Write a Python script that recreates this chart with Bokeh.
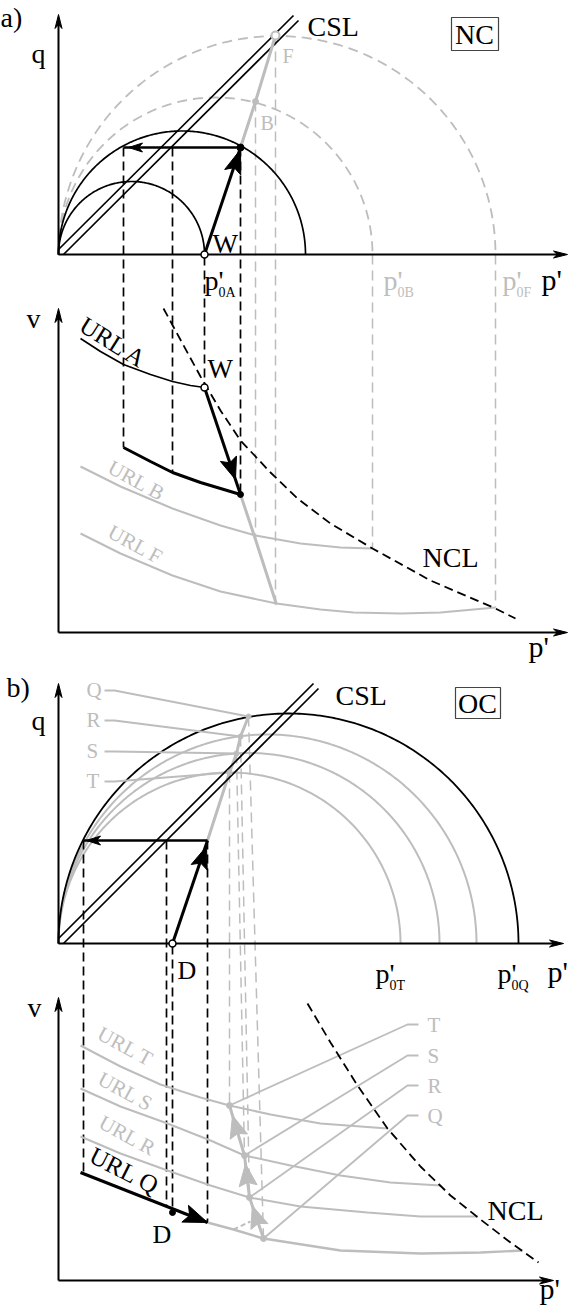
import numpy as np
from bokeh.plotting import figure
from bokeh.models import Range1d
from bokeh.core.properties import value
from bokeh.embed import file_html
from bokeh.resources import INLINE

BLACK = "#000000"
GREY = "#bdbdbd"
FONT = "Liberation Serif"
DASH = "9 5"
GDASH = "10 6"

# ======================= DATA (drawing units, y grows downward) =======================
axis_x0 = 58
# ---------- a) NC : q-p' plane ----------
a_q_base = 254
a_q_top = 14
a_locus_ends = [204, 305]            # p'0A locus, current yield locus
a_grey_locus_ends = [372, 495]       # p'0B, p'0F (dashed)
a_csl_up_x = [58, 293];  a_csl_up_y = [249, 15]
a_csl_lo_x = [63, 298];  a_csl_lo_y = [254, 20]
a_esp_x = [204, 240];    a_esp_y = [254, 147]
a_gsp_x = [240, 255, 275]; a_gsp_y = [147, 101, 35]
a_unl_x = [240, 123];    a_unl_y = [147, 147]
a_drop_x = [123, 172, 204, 240]
a_drop_top = [147, 147, 256, 147]
a_drop_bot = [447, 472, 387, 494]
a_gdrop_x = [255, 275, 372, 495]
a_gdrop_top = [101, 35, 254, 254]
a_gdrop_bot = [538, 604, 548, 607]
# ---------- a) NC : v-p' plane ----------
a_v_base = 632
a_v_top = 308
a_url_a_x = [80, 100, 123, 150, 172, 190, 204]
a_url_a_y = [338, 351, 364, 374, 381, 385, 387]
a_unl_v_x = [123, 150, 172, 200, 220, 240]
a_unl_v_y = [447, 461, 472, 482, 488, 494]
a_vpath_x = [204, 240];  a_vpath_y = [387, 494]
a_gvpath_x = [240, 255, 276]; a_gvpath_y = [494, 539, 604]
a_url_b_x = [80, 120, 172, 220, 255, 300, 340, 372]
a_url_b_y = [466, 486, 508, 525, 535, 543, 547, 548]
a_url_f_x = [80, 120, 172, 220, 276, 320, 353, 400, 440, 495]
a_url_f_y = [533, 553, 575, 591, 603, 609, 612, 613, 612, 607]
a_ncl_x = [163, 182, 200, 220, 240, 270, 297, 330, 372, 430, 495, 515]
a_ncl_y = [308, 343, 376, 410, 440, 472, 498, 523, 548, 580, 608, 618]

# ---------- b) OC : q-p' plane ----------
b_q_base = 943
b_q_top = 683
b_locus_end = 518                    # p'0Q (black)
b_grey_locus_ends = [400, 439, 476]  # T, S, R loci
b_csl_up_x = [58, 313]; b_csl_up_y = [938, 683]
b_csl_lo_x = [63, 318]; b_csl_lo_y = [943, 688]
b_esp_x = [172, 207];   b_esp_y = [943, 840]
b_unl_x = [207, 83];    b_unl_y = [840, 840]
b_gsp_x = [207, 229, 236, 240, 248]; b_gsp_y = [840, 772, 753, 736, 716]
b_pt_names = ["T", "S", "R", "Q"]
b_qpt_x = [229, 236, 240, 248]; b_qpt_y = [772, 753, 736, 716]
b_vpt_x = [229, 244, 249, 263]; b_vpt_y = [1105, 1155, 1197, 1238]
b_drop_x = [83, 166, 172, 207]
b_drop_top = [840, 840, 945, 840]
b_drop_bot = [1172, 1206, 1212, 1222]
b_lab_q_y = [781, 751, 720, 690]     # leader start heights for T S R Q (left labels)
b_lab_v_y = [1024, 1055, 1085, 1115] # leader start heights for T S R Q (right labels)
# ---------- b) OC : v-p' plane ----------
b_v_base = 1280
b_v_top = 997
b_url_t_x = [80, 120, 160, 200, 229, 270, 320, 387]
b_url_t_y = [1045, 1066, 1084, 1097, 1105, 1114, 1123, 1128]
b_url_s_x = [80, 120, 167, 210, 244, 290, 340, 390, 440]
b_url_s_y = [1088, 1106, 1123, 1140, 1155, 1165, 1175, 1182, 1185]
b_url_r_x = [80, 120, 167, 210, 249, 300, 367, 420, 477]
b_url_r_y = [1136, 1153, 1170, 1185, 1197, 1206, 1212, 1216, 1216]
b_url_qk_x = [80, 207]; b_url_qk_y = [1172, 1222]
b_url_qg_x = [207, 233, 263, 340, 420, 480, 522]
b_url_qg_y = [1222, 1229, 1238, 1250, 1253, 1252, 1250]
b_ncl_x = [307, 330, 357, 387, 420, 450, 480, 510, 538]
b_ncl_y = [1003, 1042, 1085, 1128, 1166, 1195, 1219, 1242, 1262]

# ======================= FIGURE =======================
p = figure(width=568, height=1309, x_range=Range1d(0, 568), y_range=Range1d(1309, 0),
           output_backend="svg", toolbar_location=None, min_border=0)
p.axis.visible = False
p.grid.visible = False
p.outline_line_color = None
p.background_fill_color = "white"


def semicircle(x0, x1, base, n=240):
    c = (x0 + x1) / 2.0
    r = (x1 - x0) / 2.0
    t = np.linspace(0, np.pi, n)
    return c - r * np.cos(t), base - r * np.sin(t)


def head(tip, frm, L, w, color, notch=0.72):
    tip = np.array(tip, float)
    d = tip - np.array(frm, float)
    d = d / np.hypot(*d)
    n = np.array([-d[1], d[0]])
    pts = [tip, tip - L * d + w * n, tip - notch * L * d, tip - L * d - w * n]
    p.patch([q[0] for q in pts], [q[1] for q in pts], fill_color=color, line_color=color, line_width=1)


def line(x, y, color=BLACK, w=1.6, dash="solid"):
    p.line(x, y, line_color=color, line_width=w, line_dash=dash)


def txt(x, y, s, size=28, color=BLACK, align="left", baseline="alphabetic", angle=0.0):
    if baseline == "alphabetic":
        y = y - 0.36 * size   # renderer places alphabetic text lower; compensate
    p.text(x=[x], y=[y], text=[s], text_font=value(FONT), text_font_size=value(f"{size}px"),
           text_color=color, text_align=align, text_baseline=baseline, angle=angle)


def p0(x, base, sub, color=BLACK):
    txt(x, base, "p'", 28, color)
    txt(x + 14, base + 7, sub, 14, color)


def axes(base, top, right):
    line([axis_x0, axis_x0], [base, top + 6], BLACK, 2)
    head((axis_x0, top), (axis_x0, base), 14, 3.5, BLACK)
    line([axis_x0, right - 6], [base, base], BLACK, 2)
    head((right, base), (axis_x0, base), 14, 3.5, BLACK)


def along(xs, ys, f):
    return (xs[0] + f * (xs[1] - xs[0]), ys[0] + f * (ys[1] - ys[0]))


# ---------------- a) q-p' ----------------
for e in a_grey_locus_ends:
    cx, cy = semicircle(axis_x0, e, a_q_base)
    line(cx, cy, GREY, 1.8, GDASH)
for x, t, b in zip(a_gdrop_x, a_gdrop_top, a_gdrop_bot):
    line([x, x], [t, b], GREY, 1.5, GDASH)
for x, t, b in zip(a_drop_x, a_drop_top, a_drop_bot):
    line([x, x], [t, b], BLACK, 1.7, DASH)
for e in a_locus_ends:
    cx, cy = semicircle(axis_x0, e, a_q_base)
    line(cx, cy, BLACK, 1.7)
line(a_csl_up_x, a_csl_up_y, BLACK, 1.7)
line(a_csl_lo_x, a_csl_lo_y, BLACK, 1.7)
line(a_gsp_x, a_gsp_y, GREY, 3)
axes(a_q_base, a_q_top, 567)
line(a_esp_x, a_esp_y, BLACK, 3)
head((a_esp_x[1], a_esp_y[1] + 2), (a_esp_x[0], a_esp_y[0]), 24, 8.5, BLACK, 0.8)
line(a_unl_x, a_unl_y, BLACK, 2.4)
head((128, 147), (a_unl_x[0], a_unl_y[0]), 14, 4.5, BLACK)
p.scatter([a_esp_x[0]], [a_esp_y[0]], marker="circle", size=7, fill_color="white", line_color=BLACK, line_width=1.5)
p.scatter([a_esp_x[1]], [a_esp_y[1]], marker="circle", size=7, fill_color=BLACK, line_color=BLACK)
p.scatter([a_gsp_x[1]], [a_gsp_y[1]], marker="circle", size=6, fill_color=GREY, line_color=GREY)
p.scatter([a_gsp_x[2]], [a_gsp_y[2]], marker="circle", size=8, fill_color="white", line_color=GREY, line_width=2)
p.quad(left=[451], right=[498], top=[17], bottom=[50], fill_color=None, line_color="#444444", line_width=1.2)

txt(0, 27, "a)", 28)
txt(38, 63, "q", 28, align="center")
txt(307, 36, "CSL", 28)
txt(474, 44, "NC", 28, align="center")
txt(282, 63, "F", 20, GREY)
txt(260, 130, "B", 20, GREY)
txt(212, 253, "W", 27)
p0(204, 290, "0A")
p0(383, 290, "0B", GREY)
p0(502, 290, "0F", GREY)
txt(541, 290, "p'", 30)

# ---------------- a) v-p' ----------------
line(a_url_b_x, a_url_b_y, GREY, 2)
line(a_url_f_x, a_url_f_y, GREY, 2)
line(a_gvpath_x, a_gvpath_y, GREY, 3)
line(a_ncl_x, a_ncl_y, BLACK, 1.8, DASH)
line(a_url_a_x, a_url_a_y, BLACK, 1.7)
line(a_unl_v_x, a_unl_v_y, BLACK, 3)
axes(a_v_base, a_v_top, 567)
line(a_vpath_x, a_vpath_y, BLACK, 3)
head(along(a_vpath_x, a_vpath_y, 0.86), (a_vpath_x[0], a_vpath_y[0]), 22, 8.5, BLACK, 0.8)
p.scatter([a_vpath_x[0]], [a_vpath_y[0]], marker="circle", size=7, fill_color="white", line_color=BLACK, line_width=1.5)
p.scatter([a_vpath_x[1]], [a_vpath_y[1]], marker="circle", size=6, fill_color=BLACK, line_color=BLACK)

txt(33, 328, "v", 28, align="center")
txt(113, 342, "URL A", 25, align="center", baseline="middle", angle=-0.56)
txt(207, 378, "W", 27)
txt(136, 480, "URL B", 21, GREY, align="center", baseline="middle", angle=-0.5)
txt(135, 544, "URL F", 21, GREY, align="center", baseline="middle", angle=-0.5)
txt(422, 567, "NCL", 28)
txt(528, 657, "p'", 30)

# ---------------- b) q-p' ----------------
for e in b_grey_locus_ends:
    cx, cy = semicircle(axis_x0, e, b_q_base)
    line(cx, cy, GREY, 2)
for xq, yq, xv, yv in zip(b_qpt_x, b_qpt_y, b_vpt_x, b_vpt_y):
    line([xq, xv], [yq, yv], GREY, 1.5, GDASH)
for x, t, b in zip(b_drop_x, b_drop_top, b_drop_bot):
    line([x, x], [t, b], BLACK, 1.7, DASH)
cx, cy = semicircle(axis_x0, b_locus_end, b_q_base)
line(cx, cy, BLACK, 1.8)
line(b_gsp_x, b_gsp_y, GREY, 3)
for ly, xq, yq in zip(b_lab_q_y, b_qpt_x, b_qpt_y):
    line([104, 114, xq], [ly, ly, yq], GREY, 1.8)
line(b_csl_up_x, b_csl_up_y, BLACK, 1.7)
line(b_csl_lo_x, b_csl_lo_y, BLACK, 1.7)
axes(b_q_base, b_q_top, 563)
line(b_esp_x, b_esp_y, BLACK, 3)
head((b_esp_x[1] - 1, b_esp_y[1] + 6), (b_esp_x[0], b_esp_y[0]), 22, 8.5, BLACK, 0.8)
line(b_unl_x, b_unl_y, BLACK, 2.4)
head((86, 840), (b_unl_x[0], b_unl_y[0]), 14, 4.5, BLACK)
p.scatter([b_esp_x[0]], [b_esp_y[0]], marker="circle", size=7, fill_color="white", line_color=BLACK, line_width=1.5)
p.scatter(b_qpt_x, b_qpt_y, marker="circle", size=5, fill_color=GREY, line_color=GREY)
p.quad(left=[455], right=[500], top=[687], bottom=[718], fill_color=None, line_color="#444444", line_width=1.2)

txt(6, 697, "b)", 28)
txt(38, 730, "q", 28, align="center")
for nm, ly in zip(b_pt_names, b_lab_q_y):
    txt(86, ly + 7, nm, 21, GREY)
txt(335, 705, "CSL", 28)
txt(477, 713, "OC", 28, align="center")
txt(177, 979, "D", 26)
p0(375, 983, "0T")
p0(497, 983, "0Q")
txt(547, 982, "p'", 30)

# ---------------- b) v-p' ----------------
line(b_url_t_x, b_url_t_y, GREY, 2)
line(b_url_s_x, b_url_s_y, GREY, 2)
line(b_url_r_x, b_url_r_y, GREY, 2)
line(b_url_qg_x, b_url_qg_y, GREY, 2.4)
for ly, xv, yv in zip(b_lab_v_y, b_vpt_x, b_vpt_y):
    line([418, 407, xv], [ly, ly, yv], GREY, 1.8)
line([233, 250], [1229, 1221], GREY, 2, "5 3")
# grey path Q -> R -> S -> T with arrows
gx = b_vpt_x[::-1]; gy = b_vpt_y[::-1]
line(gx, gy, GREY, 3)
for i in range(3):
    sx = [gx[i], gx[i + 1]]; sy = [gy[i], gy[i + 1]]
    head(along(sx, sy, 0.8), (sx[0], sy[0]), 22, 9, GREY, 0.85)
p.scatter(b_vpt_x, b_vpt_y, marker="circle", size=6, fill_color=GREY, line_color=GREY)
line(b_ncl_x, b_ncl_y, BLACK, 1.8, DASH)
axes(b_v_base, b_v_top, 553)
line(b_url_qk_x, b_url_qk_y, BLACK, 3)
head((b_url_qk_x[1], b_url_qk_y[1]), (b_url_qk_x[0], b_url_qk_y[0]), 24, 9, BLACK, 0.8)
p.scatter([172], [1212], marker="circle", size=6, fill_color=BLACK, line_color=BLACK)

txt(34, 1017, "v", 28, align="center")
txt(125, 1046, "URL T", 21, GREY, align="center", baseline="middle", angle=-0.5)
txt(125, 1091, "URL S", 21, GREY, align="center", baseline="middle", angle=-0.5)
txt(127, 1135, "URL R", 21, GREY, align="center", baseline="middle", angle=-0.5)
txt(124, 1170, "URL Q", 25, align="center", baseline="middle", angle=-0.47)
txt(152, 1243, "D", 26)
for nm, ly in zip(b_pt_names, b_lab_v_y):
    txt(427, ly + 8, nm, 21, GREY)
txt(487, 1220, "NCL", 28)
txt(539, 1299, "p'", 30)

open("out.html", "w").write(file_html(p, INLINE))
